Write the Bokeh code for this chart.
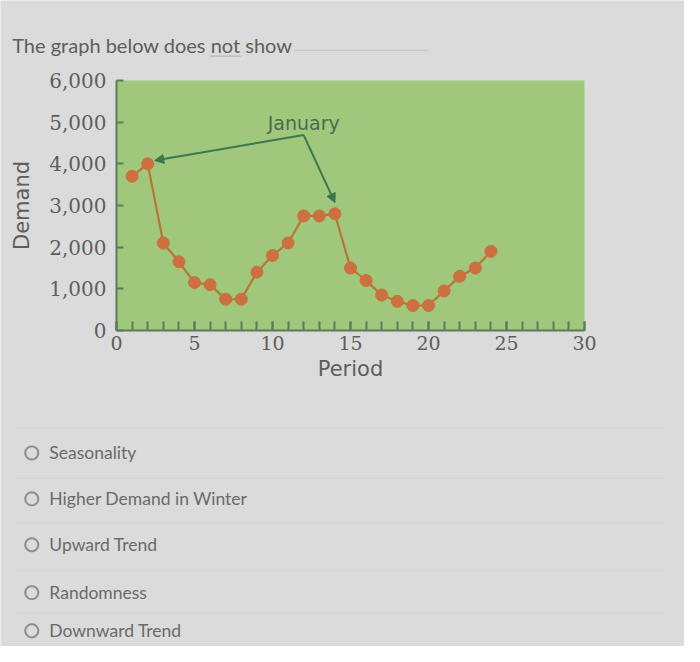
import numpy as np
from bokeh.plotting import figure
from bokeh.models import (Range1d, FixedTicker, NumeralTickFormatter, Arrow, NormalHead,
                          Label, PolyAnnotation, BoxAnnotation)
from bokeh.embed import file_html
from bokeh.resources import INLINE

# ---------------- data ----------------
question = "The graph below does not show"
options = ["Seasonality", "Higher Demand in Winter", "Upward Trend", "Randomness", "Downward Trend"]
period = list(range(1, 25))
demand = [3700, 4000, 2100, 1650, 1150, 1100, 750, 750, 1400, 1800, 2100, 2750,
          2750, 2800, 1500, 1200, 850, 700, 600, 600, 950, 1300, 1500, 1900]
x_major = [0, 5, 10, 15, 20, 25, 30]
x_minor = list(range(0, 31))
y_major = [0, 1000, 2000, 3000, 4000, 5000, 6000]
note_text = "January"
note_from = (12.0, 4690)
note_targets = [(2.45, 4080), (14.0, 3070)]

BG = "#dbdbdb"
GREEN = "#9fc87b"
TXT = "#5e5e5e"
AX = "#5d7a5f"

W, H = 684, 646
S = W / 700.0                          # reference px -> figure px
FL, FR, FT, FB = 116, 584, 80, 330     # chart box edges in figure pixels
X0, X1, Y0, Y1 = 0, 30, 0, 6000
ppx = (FR - FL) / (X1 - X0)            # pixels per x unit
ppy = (FB - FT) / (Y1 - Y0)            # pixels per y unit


def xd(rx):
    return X0 + (rx * S - FL) / ppx


def yd(ry):
    return Y0 + (FB - ry * S) / ppy


p = figure(width=W, height=H,
           x_range=Range1d(X0 - FL / ppx, X1 + (W - FR) / ppx),
           y_range=Range1d(Y0 - (H - FB) / ppy, Y1 + FT / ppy),
           toolbar_location=None, output_backend="svg", min_border=0)
p.background_fill_color = BG
p.border_fill_color = BG
p.outline_line_color = None
p.grid.visible = False

p.add_layout(BoxAnnotation(left=X0, right=X1, bottom=Y0, top=Y1, fill_color=GREEN,
                           fill_alpha=1, line_alpha=0, level="underlay"))

p.xaxis.fixed_location = Y0
p.yaxis.fixed_location = X0
p.xaxis.bounds = (X0, X1)
p.yaxis.bounds = (Y0, Y1)
p.xaxis.ticker = FixedTicker(ticks=x_major, minor_ticks=x_minor)
p.yaxis.ticker = FixedTicker(ticks=y_major)
p.yaxis.formatter = NumeralTickFormatter(format="0,0")
for ax in (p.xaxis, p.yaxis):
    ax.axis_line_color = AX
    ax.axis_line_width = 2
    ax.major_tick_line_color = AX
    ax.minor_tick_line_color = AX
    ax.major_tick_line_width = 2
    ax.minor_tick_line_width = 2
    ax.major_tick_out = 0
    ax.minor_tick_out = 0
    ax.major_label_text_font = "DejaVu Serif"
    ax.major_label_text_color = TXT
    ax.axis_label_text_font = "DejaVu Sans"
    ax.axis_label_text_font_style = "normal"
    ax.axis_label_text_color = TXT
p.xaxis.major_tick_in = 9
p.xaxis.minor_tick_in = 9
p.yaxis.major_tick_in = 7
p.yaxis.minor_tick_line_color = None
p.xaxis.major_label_text_font_size = "19px"
p.yaxis.major_label_text_font_size = "20px"
p.xaxis.major_label_standoff = 5
p.yaxis.major_label_standoff = 10
p.xaxis.axis_label = "Period"
p.yaxis.axis_label = "Demand"
p.xaxis.axis_label_text_font_size = "21px"
p.yaxis.axis_label_text_font_size = "21px"
p.xaxis.axis_label_standoff = 4
p.yaxis.axis_label_standoff = 12

p.line(period, demand, line_color="#b8743a", line_width=2.2)
p.scatter(period, demand, size=12, fill_color="#cc7040", line_color="#cc7040")

for tx, ty in note_targets:
    p.add_layout(Arrow(end=NormalHead(size=9, fill_color="#3f7550", line_color="#3f7550"),
                       x_start=note_from[0], y_start=note_from[1], x_end=tx, y_end=ty,
                       line_color="#3f7550", line_width=2))
p.add_layout(Label(x=note_from[0], y=note_from[1] + 290, text=note_text,
                   text_font="DejaVu Sans", text_font_size="19px", text_color="#4d6b52",
                   text_align="center", text_baseline="middle"))

# ---------------- question text above the chart ----------------
p.add_layout(Label(x=xd(12), y=yd(46), text=question, text_font="Lato",
                   text_font_size="20px", text_color=TXT,
                   text_align="left", text_baseline="middle"))


def hline(rx0, rx1, ry, color, width):
    p.add_layout(PolyAnnotation(xs=[xd(rx0), xd(rx1)], ys=[yd(ry), yd(ry)],
                                fill_alpha=0, line_color=color, line_width=width))


hline(214, 246, 57, TXT, 1.3)            # underline of "not"
hline(300, 438, 51, "#8c8c8c", 1)        # answer blank

# ---------------- answer options below the chart ----------------
sep_y = [437, 489, 535, 583, 627]
for ry in sep_y:
    hline(15, 680, ry, "#c6c6c6", 1.5)

opt_y = [463, 510, 557, 606, 645]
theta = np.linspace(0, 2 * np.pi, 49)
for ry, txt in zip(opt_y, options):
    r = 6.5 / S
    p.add_layout(PolyAnnotation(xs=list(xd(32 + r * np.cos(theta))),
                                ys=list(yd(ry + r * np.sin(theta))),
                                fill_alpha=0, line_color="#8e8e8e", line_alpha=1,
                                line_width=2))
    p.add_layout(Label(x=xd(50), y=yd(ry), text=txt, text_font="Lato",
                       text_font_size="17.5px", text_color="#6a6a6a",
                       text_align="left", text_baseline="middle"))

open("out.html", "w").write(file_html(p, INLINE))
